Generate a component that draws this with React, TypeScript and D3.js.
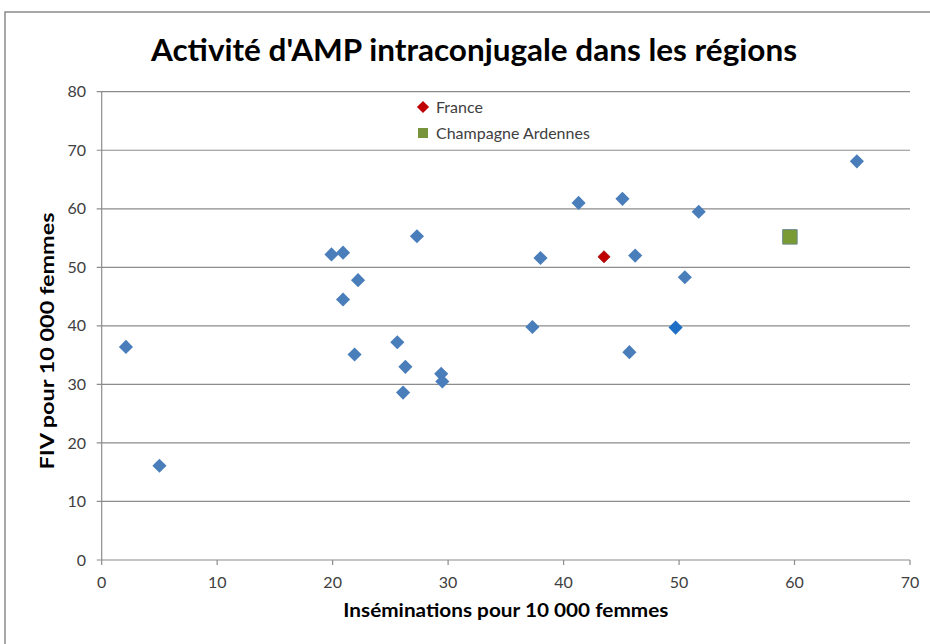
import React from 'react';
import * as d3 from 'd3';

// Inséminations (x) and FIV (y) per 10 000 women, by region
const regionIns = [2.1, 5.0, 19.9, 20.9, 20.9, 22.2, 21.9, 27.3, 25.6, 26.3, 26.1, 29.4, 29.5, 37.3, 38.0, 41.3, 45.1, 46.2, 45.7, 50.5, 51.7, 65.4];
const regionFiv = [36.4, 16.1, 52.2, 52.5, 44.5, 47.8, 35.1, 55.3, 37.2, 33.0, 28.6, 31.8, 30.5, 39.8, 51.6, 61.0, 61.7, 52.0, 35.5, 48.3, 59.5, 68.1];
const otherIns = [49.7];
const otherFiv = [39.7];
const franceIns = [43.5];
const franceFiv = [51.8];
const champIns = [59.6];
const champFiv = [55.2];

const xTicks = [0, 10, 20, 30, 40, 50, 60, 70];
const yTicks = [0, 10, 20, 30, 40, 50, 60, 70, 80];

const title = "Activité d'AMP intraconjugale dans les régions";
const xTitle = 'Inséminations pour 10 000 femmes';
const yTitle = 'FIV pour 10 000 femmes';
const legend = ['France', 'Champagne  Ardennes'];

const font = 'Lato, "Open Sans", sans-serif';

function App() {
  const width = 930;
  const height = 644;
  const plot = { left: 101.7, right: 910, top: 91.7, bottom: 560 };

  const x = d3.scaleLinear().domain([0, 70]).range([plot.left, plot.right]);
  const y = d3.scaleLinear().domain([0, 80]).range([plot.bottom, plot.top]);

  const diamond = d3.symbol(d3.symbolSquare, 100)();
  const smallDiamond = d3.symbol(d3.symbolSquare, 74)();
  const square = d3.symbol(d3.symbolSquare, 210)();
  const legendSquare = d3.symbol(d3.symbolSquare, 100)();

  return (
    <svg
      width={width}
      height={height}
      style={{ position: 'absolute', left: 0, top: 0, background: '#fff' }}
    >
      <rect x={5} y={12} width={940} height={660} fill="#fff" stroke="#8a8a8a" strokeWidth={1.5} />

      <text
        x={474}
        y={61}
        textAnchor="middle"
        fontFamily={font}
        fontWeight="bold"
        fontSize={30}
        textLength={646}
        lengthAdjust="spacingAndGlyphs"
        fill="#000"
      >
        {title}
      </text>

      {/* grid */}
      {yTicks.map((t) => (
        <g key={t}>
          <line x1={plot.left - 5} x2={plot.right} y1={y(t)} y2={y(t)} stroke="#8c8c8c" strokeWidth={1.2} />
          <text x={86} y={y(t)} dy="0.35em" textAnchor="end" fontFamily={font} fontSize={16} fill="#404040">
            {t}
          </text>
        </g>
      ))}
      <line x1={plot.left} x2={plot.left} y1={plot.top} y2={plot.bottom} stroke="#8c8c8c" strokeWidth={1.2} />
      {xTicks.map((t) => (
        <g key={t}>
          <line x1={x(t)} x2={x(t)} y1={plot.bottom} y2={plot.bottom + 5} stroke="#8c8c8c" strokeWidth={1.2} />
          <text x={x(t)} y={588} textAnchor="middle" fontFamily={font} fontSize={16} fill="#404040">
            {t}
          </text>
        </g>
      ))}

      <text
        x={(plot.left + plot.right) / 2}
        y={617}
        textAnchor="middle"
        fontFamily={font}
        fontWeight="bold"
        fontSize={18}
        textLength={325}
        lengthAdjust="spacingAndGlyphs"
        fill="#000"
      >
        {xTitle}
      </text>
      <text
        transform={`translate(54 341) rotate(-90)`}
        textAnchor="middle"
        fontFamily={font}
        fontWeight="bold"
        fontSize={18}
        textLength={257}
        lengthAdjust="spacingAndGlyphs"
        fill="#000"
      >
        {yTitle}
      </text>

      {/* points */}
      {regionIns.map((v, i) => (
        <path
          key={i}
          d={diamond}
          transform={`translate(${x(v)} ${y(regionFiv[i])}) rotate(45)`}
          fill="#4a7ebb"
        />
      ))}
      {otherIns.map((v, i) => (
        <path
          key={'o' + i}
          d={diamond}
          transform={`translate(${x(v)} ${y(otherFiv[i])}) rotate(45)`}
          fill="#1f6fc5"
        />
      ))}
      {franceIns.map((v, i) => (
        <path
          key={'f' + i}
          d={smallDiamond}
          transform={`translate(${x(v)} ${y(franceFiv[i])}) rotate(45)`}
          fill="#c00000"
          stroke="#a31515"
          strokeWidth={0.8}
        />
      ))}
      {champIns.map((v, i) => (
        <path
          key={'c' + i}
          d={square}
          transform={`translate(${x(v)} ${y(champFiv[i])})`}
          fill="#7a9a33"
          stroke="#6e8a8a"
          strokeWidth={1}
        />
      ))}

      {/* legend */}
      <g fontFamily={font} fontSize={16} fill="#404040">
        <path d={smallDiamond} transform="translate(423 107) rotate(45)" fill="#c00000" />
        <text x={436} y={113}>{legend[0]}</text>
        <path d={legendSquare} transform="translate(423 133)" fill="#77933c" />
        <text x={436} y={139}>{legend[1]}</text>
      </g>
    </svg>
  );
}

export default App;
